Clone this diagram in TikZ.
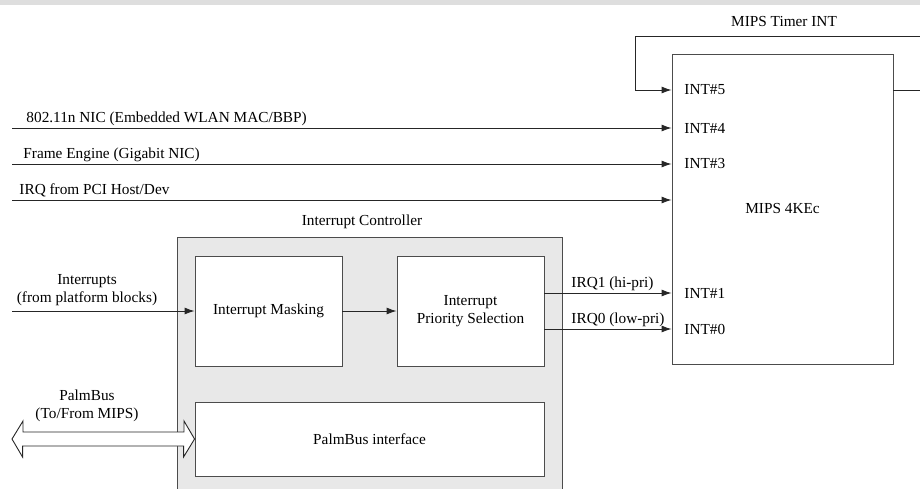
\documentclass[tikz,border=0pt]{standalone}
\usepackage{fontspec}
\setmainfont{Liberation Serif}
\usetikzlibrary{arrows.meta}

\begin{document}
\begin{tikzpicture}[x=1pt,y=-1pt,line width=0.9pt,draw=black!85,
		>={Latex[length=10pt,width=7pt]},
		font=\fontsize{15.3}{18.3}\selectfont,
		blk/.style={rectangle,draw=black!70,fill=white,inner sep=0pt,align=center},
		lbl/.style={inner sep=1pt,align=center}]
		\useasboundingbox (0,0) rectangle (920,488);
		\clip (0,0) rectangle (920,488);
		\fill[black!13] (0,0) rectangle (920,4.5);
		\node[blk,minimum width=221,minimum height=310] (mips) at (782.5,209) {MIPS 4KEc};
		\node[blk,fill=black!9,minimum width=385,minimum height=270,anchor=north west] (ic) at (177,237) {};
		\node[lbl] (iclbl) at (362,222) {Interrupt Controller};
		\node[blk,minimum width=147,minimum height=110] (mask) at (268.5,311) {Interrupt Masking};
		\node[blk,minimum width=147,minimum height=110] (prio) at (470.5,311) {Interrupt\\Priority Selection};
		\node[blk,minimum width=349,minimum height=74] (pbif) at (369.5,439) {PalmBus interface};
		\foreach \n/\y in {5/90,4/128,3/164,1/293,0/329}
		\node[lbl,anchor=west] (int\n) at (683,\y) {INT\#\n};
		\foreach \y/\x/\t [count=\i] in {128/25/{802.11n NIC (Embedded WLAN MAC/BBP)},
			164/22/{Frame Engine (Gigabit NIC)},200/18/{IRQ from PCI Host/Dev}}
		{\coordinate (src\i) at (12,\y);
			\draw[->] (src\i) -- (src\i -| mips.west);
			\node[lbl,anchor=base west] (srclbl\i) at (\x,\y-6) {\t};}
		\path (mips.west |- int5) coordinate (t5w) (mips.east |- int5) coordinate (t5e);
		\draw[->] (t5e) -- ++(40,0) |- (635,36) |- (t5w);
		\node[lbl] (tmrlbl) at (784,22) {MIPS Timer INT};
		\coordinate (irqin) at (12,311);
		\draw[->] (irqin) -- (irqin -| mask.west);
		\node[lbl] (irqinlbl) at (87,290) {Interrupts\\(from platform blocks)};
		\draw[->] (mask) -- (prio);
		\foreach \dy/\t [count=\i] in {-18/{IRQ1 (hi-pri)},18/{IRQ0 (low-pri)}}
		{\path (prio.east) ++(0,\dy) coordinate (irq\i);
			\draw[->] (irq\i) -- (irq\i -| mips.west);
			\node[lbl,anchor=base west] (irqlbl\i) at ([yshift=6pt]irq\i -| 570,0) {\t};}
		\coordinate (pbl) at (12,439);
		\draw[fill=white] (pbl) -- ++(11,-18) -- ++(0,11) -- ++(161,0) -- ++(0,-11) -- (pbif.west)
		-- ++(-11,18) -- ++(0,-11) -- ++(-161,0) -- ++(0,11) -- cycle;
		\node[lbl] (pblbl) at (87,406) {PalmBus\\(To/From MIPS)};
\end{tikzpicture}
\end{document}
